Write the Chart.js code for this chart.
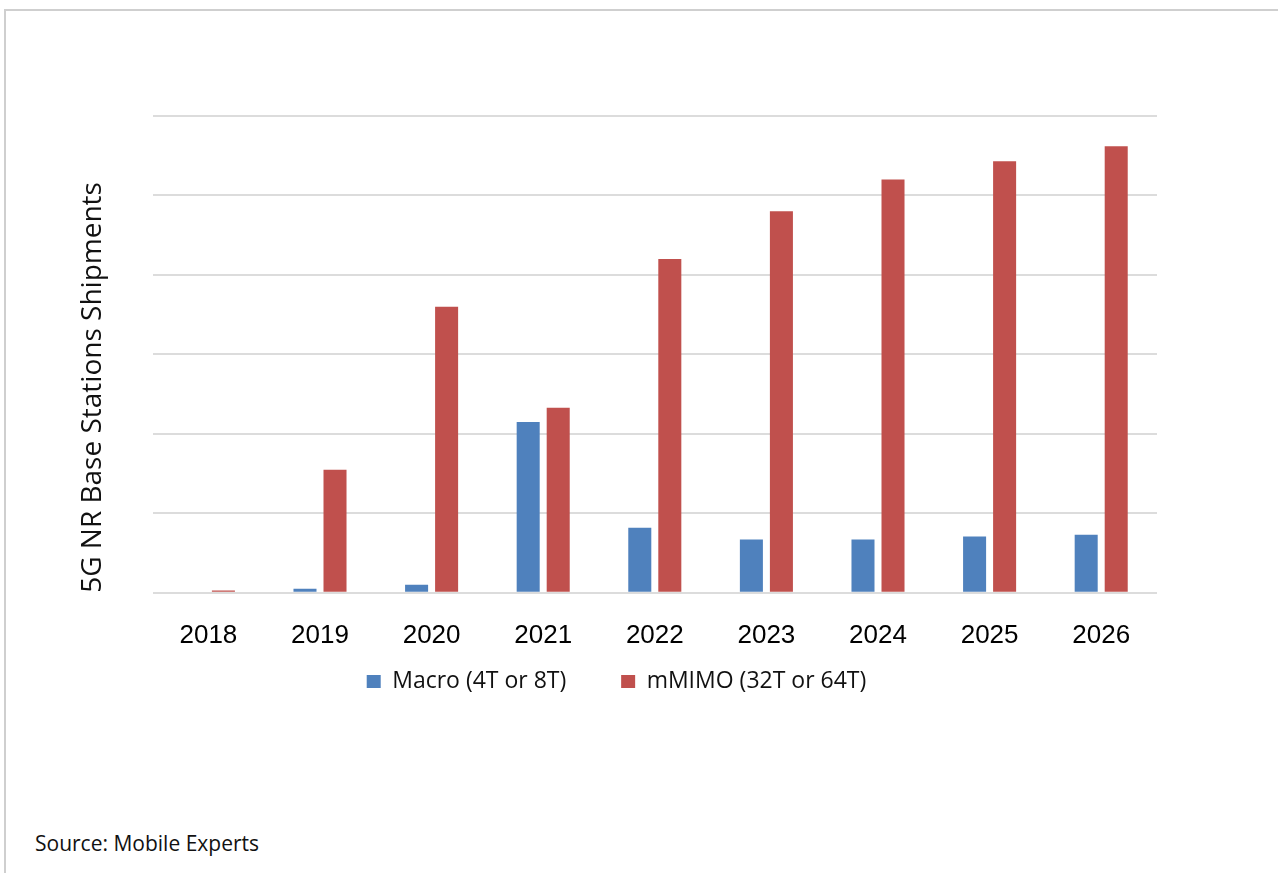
<!DOCTYPE html>
<html>
<head>
<meta charset="utf-8">
<script src="https://cdn.jsdelivr.net/npm/chart.js@4.4.1/dist/chart.umd.min.js"></script>
<style>
    body { margin: 0; background: #fff; width: 1278px; height: 873px; overflow: hidden; position: relative; }
    #frame { position: absolute; left: 4px; top: 9px; right: 0; bottom: 0; border-top: 2px solid #cfcfcf; border-left: 2px solid #cfcfcf; }
    #chart-wrap { position: absolute; left: 0; top: 0; width: 1268px; height: 703px; }
    #source { position: absolute; left: 35px; top: 829px; font-family: "Open Sans", sans-serif; font-size: 21px; color: #111; }
</style>
</head>
<body>
<div id="frame"></div>
<div id="chart-wrap"><canvas id="barChart"></canvas></div>
<div id="source">Source: Mobile Experts</div>

<script>
// --- DATA (units = gridline steps, axis has no numbers) ---
const years = ["2018", "2019", "2020", "2021", "2022", "2023", "2024", "2025", "2026"];
const macroShipments = [0, 0.05, 0.1, 2.15, 0.82, 0.67, 0.67, 0.71, 0.73];
const mimoShipments = [0.03, 1.55, 3.6, 2.33, 4.2, 4.8, 5.2, 5.43, 5.62];
const seriesNames = ["Macro (4T or 8T)", "mMIMO (32T or 64T)"];
const seriesColors = ["#4F81BD", "#C0504D"];

const ctx = document.getElementById('barChart').getContext('2d');
const barChart = new Chart(ctx, {
    type: 'bar',
    data: {
        labels: years,
        datasets: [
            { label: seriesNames[0], data: macroShipments, backgroundColor: seriesColors[0] },
            { label: seriesNames[1], data: mimoShipments, backgroundColor: seriesColors[1] }
        ]
    },
    options: {
        responsive: true,
        maintainAspectRatio: false,
        animation: false,
        categoryPercentage: 0.538,
        barPercentage: 0.767,
        layout: { padding: { top: 116, left: 76, right: 111, bottom: 0 } },
        plugins: {
            tooltip: { enabled: false },
            legend: {
                position: 'bottom',
                labels: {
                    font: { family: "'Open Sans', sans-serif", size: 23 },
                    color: '#111',
                    boxWidth: 14,
                    boxHeight: 13,
                    padding: 19,
                    // wider gap between the two entries, like the original
                    generateLabels: chart => Chart.defaults.plugins.legend.labels.generateLabels(chart)
                        .map((l, i) => { if (i === 0) l.text = l.text + '      '; return l; })
                }
            }
        },
        scales: {
            x: {
                // grid hidden, tickLength only used as space above the labels
                grid: { display: false, drawTicks: true, tickLength: 27 },
                border: { display: false },
                ticks: { font: { family: "'Liberation Sans', Arial, sans-serif", size: 26 }, color: '#000', padding: 0 }
            },
            y: {
                min: 0,
                max: 6,
                ticks: { display: false, stepSize: 1 },
                border: { display: false },
                grid: { color: '#dcdcdc', lineWidth: 2, drawTicks: false, tickLength: 0 },
                title: {
                    display: true,
                    text: '5G NR Base Stations Shipments',
                    align: 'start',
                    font: { family: "'Open Sans', sans-serif", size: 28 },
                    color: '#111',
                    padding: { top: 0, bottom: 43 }
                }
            }
        }
    }
});
</script>
</body>
</html>
